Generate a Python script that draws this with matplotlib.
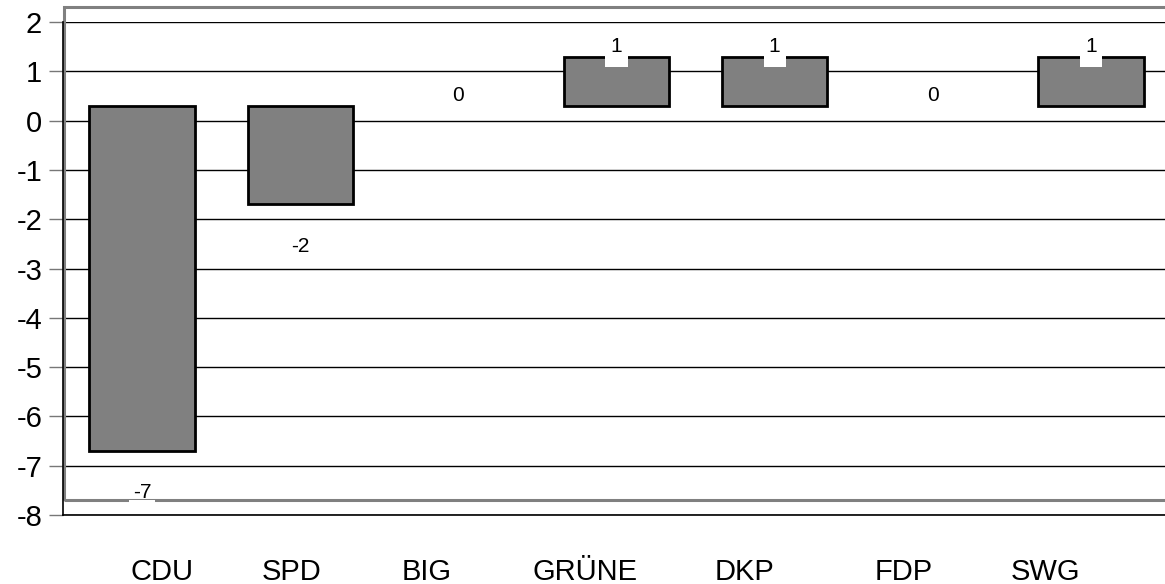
import matplotlib
matplotlib.use("Agg")
import numpy as np
from matplotlib import pyplot as plt
from matplotlib.patches import Rectangle

plt.rcParams['font.family'] = ['Liberation Sans', 'DejaVu Sans']

# Data
parties = ["CDU", "SPD", "BIG", "GRÜNE", "DKP", "FDP", "SWG"]
changes = [-7, -2, 0, 1, 1, 0, 1]
yticks = list(range(-8, 3))

base = 0.3  # bars in the original are drawn from 0.3, not 0
# the party names in the original are not centred under the bars (pixels)
label_shift_px = [20, -9, -32, -31, -30, -29, -45]

fig = plt.figure(figsize=(11.65, 5.84), dpi=100)
ax = fig.add_axes([63 / 1165, 69 / 584, 1107 / 1165, 493 / 584])

x = np.arange(len(parties))
edge_w = [2 if v != 0 else 0 for v in changes]
ax.bar(x, changes, bottom=base, width=0.665, color="#808080",
       edgecolor="black", linewidth=edge_w, zorder=3)

# grey frame behind the plot
frame = Rectangle((-0.494, -8 + base), 7.2, 10, fill=False,
                  edgecolor="#808080", linewidth=2.2, zorder=2, clip_on=False)
ax.add_patch(frame)

# value labels
for xi, v in zip(x, changes):
    if v >= 0:
        ypos = v + base + 0.2
    else:
        ypos = v + base - 0.85
    # white mask slightly below the label (as in the original export)
    ax.annotate("  " + str(v) + "  ", (xi, ypos), xytext=(0, -14),
                textcoords="offset pixels", ha="center", va="center",
                fontsize=9, color="white", zorder=4,
                bbox=dict(boxstyle="square,pad=0.05", fc="white", ec="none"))
    ax.text(xi, ypos, str(v), ha="center", va="center", fontsize=15,
            color="black", zorder=5)

ax.set_xlim(-0.5, 6.5)
ax.set_ylim(-8, 2)
ax.set_yticks(yticks)
ax.set_yticklabels([str(t) for t in yticks], fontsize=21)
ax.set_xticks(x)
ax.set_xticklabels([])

# party names
for xi, name, dx in zip(x, parties, label_shift_px):
    ax.annotate(name, (xi, 0), xycoords=ax.get_xaxis_transform(),
                xytext=(dx, -65), textcoords="offset pixels",
                ha="center", va="baseline", fontsize=21, annotation_clip=False)

ax.grid(axis="y", color="black", linewidth=1, zorder=1)
ax.set_axisbelow(True)

ax.spines['top'].set_visible(False)
ax.spines['right'].set_visible(False)
ax.spines['left'].set_linewidth(1.2)
ax.spines['bottom'].set_linewidth(1.2)

ax.tick_params(axis="y", length=10, width=1, color="#777777", pad=5)
ax.tick_params(axis="x", length=0)

plt.savefig("out.png", dpi=100)
plt.close()
